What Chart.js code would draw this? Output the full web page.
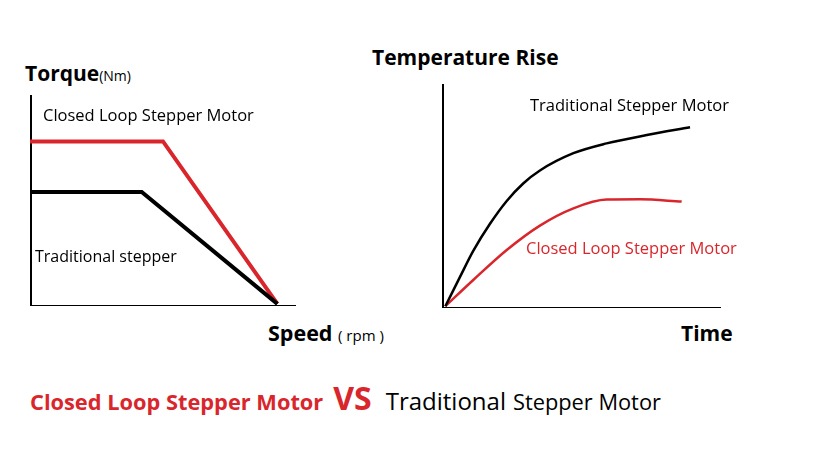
<!DOCTYPE html>
<html>
<head>
<meta charset="utf-8">
<script src="https://cdn.jsdelivr.net/npm/chart.js@4"></script>
<style>
  body { margin: 0; background: #fff; font-family: "Open Sans", sans-serif; }
  #page { position: relative; width: 819px; height: 460px; overflow: hidden; }
  .box { position: absolute; }
  .t { position: absolute; white-space: nowrap; line-height: 1; color: #000; }
  .b { font-weight: bold; }
  .red { color: #d9262c; }
</style>
</head>
<body>
<div id="page">
  <div class="box" style="left:30px;top:95px;width:266px;height:211px;"><canvas id="torque_chart"></canvas></div>
  <div class="box" style="left:442px;top:84px;width:279px;height:224px;"><canvas id="temp_chart"></canvas></div>

  <div class="t b" style="left:25px;top:63px;font-size:21px;">Torque<span style="font-weight:normal;font-size:14px;">(Nm)</span></div>
  <div class="t" style="left:43px;top:107px;font-size:16.5px;">Closed Loop Stepper Motor</div>
  <div class="t" style="left:35px;top:248px;font-size:16px;">Traditional stepper</div>
  <div class="t b" style="left:268px;top:322px;font-size:21.5px;">Speed <span style="font-weight:normal;font-size:15px;">( rpm )</span></div>

  <div class="t b" style="left:372px;top:47px;font-size:21px;">Temperature Rise</div>
  <div class="t" style="left:530px;top:97px;font-size:16.5px;">Traditional Stepper Motor</div>
  <div class="t red" style="left:526px;top:240px;font-size:16.5px;">Closed Loop Stepper Motor</div>
  <div class="t b" style="left:681px;top:323px;font-size:21px;">Time</div>

  <div class="t" style="left:30px;top:382px;">
    <span class="b red" style="font-size:21.8px;">Closed Loop Stepper Motor</span><span class="b red" style="font-size:32px;margin-left:10px;">VS</span><span style="font-size:24px;margin-left:14px;">Traditional</span><span style="font-size:21.8px;margin-left:7px;">Stepper Motor</span>
  </div>
</div>

<script>
// 왼쪽: 토크-속도 곡선
var speed_closed = [0, 50, 93];
var torque_closed = [78, 78, 1];
var speed_trad = [0, 42, 93];
var torque_trad = [54, 54, 1];

// 오른쪽: 온도 상승 곡선
var time_trad = [1.2, 6.5, 11.2, 17.2, 23.2, 29.1, 35.1, 47.1, 59, 73.4, 88.9];
var temp_trad = [0.8, 14, 25.5, 37.6, 47.8, 55.6, 61.4, 69.1, 73.5, 77.2, 80.7];
var time_closed = [1.2, 11.2, 23.2, 35.1, 47.1, 59, 71, 85.9];
var temp_closed = [0.8, 12.5, 25.9, 36.8, 44.5, 48.4, 48.5, 47.5];

var RED = '#d9262c';

function toPoints(xs, ys) {
    return xs.map(function (x, i) { return { x: x, y: ys[i] }; });
}

function axisOpts() {
    return {
        type: 'linear',
        min: 0,
        max: 100,
        ticks: { display: false },
        grid: { display: false, drawTicks: false },
        border: { display: true, color: '#000', width: 3 }
    };
}

function baseOptions() {
    return {
        responsive: true,
        maintainAspectRatio: false,
        animation: false,
        layout: { padding: 0 },
        plugins: { legend: { display: false }, tooltip: { enabled: false } },
        elements: { point: { radius: 0 } },
        scales: { x: axisOpts(), y: axisOpts() }
    };
}

new Chart(document.getElementById('torque_chart'), {
    type: 'scatter',
    data: {
        datasets: [
            { data: toPoints(speed_trad, torque_trad), showLine: true, borderColor: '#000', borderWidth: 4, tension: 0, clip: false },
            { data: toPoints(speed_closed, torque_closed), showLine: true, borderColor: RED, borderWidth: 4, tension: 0, clip: false }
        ]
    },
    options: baseOptions()
});

new Chart(document.getElementById('temp_chart'), {
    type: 'scatter',
    data: {
        datasets: [
            { data: toPoints(time_trad, temp_trad), showLine: true, borderColor: '#000', borderWidth: 2.5, cubicInterpolationMode: 'monotone', clip: false },
            { data: toPoints(time_closed, temp_closed), showLine: true, borderColor: RED, borderWidth: 2.5, cubicInterpolationMode: 'monotone', clip: false }
        ]
    },
    options: baseOptions()
});
</script>
</body>
</html>
